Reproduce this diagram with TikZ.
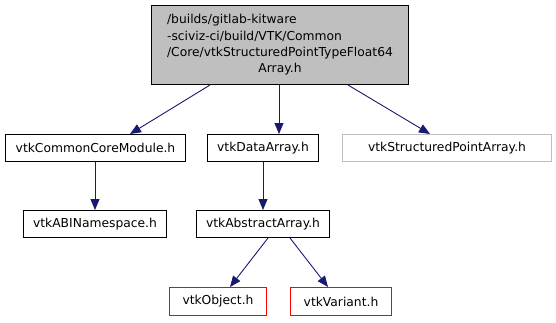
\documentclass[tikz,border=0pt]{standalone}
\usepackage{fontspec}
\setmainfont{DejaVu Sans}
\usetikzlibrary{arrows.meta}
\definecolor{edgeblue}{HTML}{191970}
\definecolor{topfill}{HTML}{BFBFBF}
\definecolor{greyline}{HTML}{BFBFBF}
\begin{document}
\begin{tikzpicture}[x=1pt,y=-1pt,
  box/.style={draw=black,line width=1pt,rectangle,inner sep=0pt,anchor=north west,font=\fontsize{12.3}{16.3}\selectfont},
  redbox/.style={box,draw=red},
  greybox/.style={box,draw=greyline},
  edge/.style={draw=edgeblue,line width=0.9pt,-{Stealth[length=11pt,width=9pt,inset=0pt]}}]
\useasboundingbox (0,0) rectangle (556,322);
\node[box,fill=topfill,minimum width=257pt,minimum height=79pt] (top) at (151,5)
  {\begin{tabular}{@{}l@{}}/builds/gitlab-kitware\\-sciviz-ci/build/VTK/Common\\/Core/vtkStructuredPointTypeFloat64\\\multicolumn{1}{@{}c@{}}{Array.h}\end{tabular}};
\node[box,minimum width=180pt,minimum height=27pt] (ccm) at (5,134) {vtkCommonCoreModule.h};
\node[box,minimum width=111pt,minimum height=27pt] (da) at (207,134) {vtkDataArray.h};
\node[greybox,minimum width=209pt,minimum height=27pt] (spa) at (342,134) {vtkStructuredPointArray.h};
\node[box,minimum width=143pt,minimum height=27pt] (abi) at (23,210) {vtkABINamespace.h};
\node[box,minimum width=133pt,minimum height=27pt] (aa) at (196,210) {vtkAbstractArray.h};
\node[redbox,minimum width=97pt,minimum height=28pt] (obj) at (169,287) {vtkObject.h};
\node[redbox,minimum width=101pt,minimum height=28pt] (var) at (290,287) {vtkVariant.h};
\draw[edge] (top.south -| 210,0) -- (ccm.north -| 130,0);
\draw[edge] (top.south -| 279,0) -- (da.north -| 279,0);
\draw[edge] (top.south -| 348,0) -- (spa.north -| 430,0);
\draw[edge] (ccm.south -| 95,0) -- (abi.north -| 95,0);
\draw[edge] (da.south -| 263,0) -- (aa.north -| 263,0);
\draw[edge] (aa.south -| 268,0) -- (obj.north -| 230,0);
\draw[edge] (aa.south -| 290,0) -- (var.north -| 328,0);
\end{tikzpicture}
\end{document}
